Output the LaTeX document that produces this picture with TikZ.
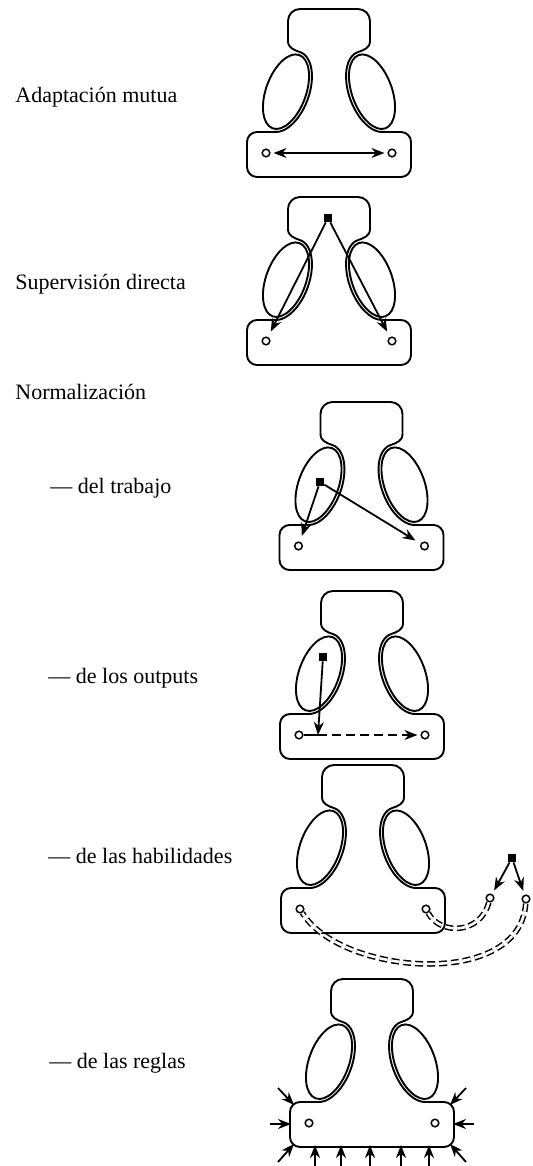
\documentclass[tikz,border=0pt]{standalone}
\usepackage{fontspec}
\setmainfont{Liberation Serif}
\usetikzlibrary{arrows.meta}

\begin{document}
\begin{tikzpicture}[
    x=0.5pt, y=0.5pt,
    font=\fontsize{11}{13}\selectfont,
    >={Stealth[length=6.5pt, width=5pt]},
    orgline/.style={line width=0.95pt, line join=round},
    opcirc/.style={circle, draw, fill=white, line width=0.75pt,
                   inner sep=0pt, minimum size=3.8pt},
    apex/.style={rectangle, fill=black, inner sep=0pt, minimum size=4pt},
    arr/.style={->, line width=0.9pt, shorten >=1.5pt},
    dbl/.style={double, double distance=1.3pt, line width=0.75pt,
                dash pattern=on 4pt off 2pt},
    lbl/.style={anchor=base west, inner sep=0pt},
    orgshape/.pic={
      % contour: apex, middle line and operating core
      \draw[orgline] (-72,0)
        -- plot[domain=-78.7:90, samples=40, variable=\t]
           ({-43+23*cos(\t)*cos(20)+42*sin(\t)*sin(20)},
            {40.3-23*cos(\t)*sin(20)+42*sin(\t)*cos(20)})
        .. controls +(160:7) and +(0,-7) .. (-41,91)
        -- (-41,111) arc[start angle=180, end angle=90, radius=12]
        -- (29,123) arc[start angle=90, end angle=0, radius=12]
        -- (41,91) .. controls +(0,-7) and +(20:7) .. (28.64,79.77)
        -- plot[domain=90:258.7, samples=40, variable=\t]
           ({43+23*cos(\t)*cos(20)-42*sin(\t)*sin(20)},
            {40.3+23*cos(\t)*sin(20)+42*sin(\t)*cos(20)})
        -- (72,0) arc[start angle=90, end angle=0, radius=10]
        -- (82,-35) arc[start angle=0, end angle=-90, radius=10]
        -- (-72,-45) arc[start angle=270, end angle=180, radius=10]
        -- (-82,-10) arc[start angle=180, end angle=90, radius=10] -- cycle;
      % technostructure and support staff
      \draw[orgline, shift={(-43,40.3)}, rotate=-20]
        (0,0) ellipse[x radius=20, y radius=39];
      \draw[orgline, shift={(43,40.3)}, rotate=20]
        (0,0) ellipse[x radius=20, y radius=39];
      \node[opcirc] (-opl) at (-63,-21) {};
      \node[opcirc] (-opr) at (63,-21) {};
    }
]
\useasboundingbox (0,0) rectangle (532,-1166);

% labels
\node[lbl] (lam)  at (15,-103)  {Adaptación mutua};
\node[lbl] (lsd)  at (15,-289)  {Supervisión directa};
\node[lbl] (lnor) at (15,-399)  {Normalización};
\node[lbl] (ltra) at (50,-493)  {— del trabajo};
\node[lbl] (lout) at (48,-683)  {— de los outputs};
\node[lbl] (lhab) at (48,-863)  {— de las habilidades};
\node[lbl] (lreg) at (49,-1068) {— de las reglas};

% mutual adjustment
\pic (fam) at (329,-132) {orgshape};
\draw[<->, line width=0.9pt, shorten <=1.5pt, shorten >=1.5pt]
    (fam-opl) -- (fam-opr);

% direct supervision
\pic (fsd) at (329,-320) {orgshape};
\node[apex] (ap2) at (328,-218) {};
\draw[arr, shorten >=3pt] (ap2) -- (fsd-opl);
\draw[arr, shorten >=3pt] (ap2) -- (fsd-opr);

% work processes
\pic (ftr) at (361.5,-525) {orgshape};
\node[apex] (ap3) at (320,-482) {};
\draw[arr, shorten >=3pt] (ap3) -- (ftr-opl);
\draw[arr, shorten >=3pt] (ap3) -- (ftr-opr);

% outputs
\pic (fout) at (362,-714) {orgshape};
\node[apex] (ap4) at (323,-657) {};
\coordinate (jn4) at (318,-735);
\draw[arr, shorten >=0pt] (ap4) -- (jn4);
\draw[line width=0.9pt] (fout-opl) -- (jn4);
\draw[arr, dash pattern=on 4.5pt off 2.5pt] (jn4) -- (fout-opr);

% skills
\pic (fhab) at (363,-888) {orgshape};
\node[apex] (ap5) at (512,-858) {};
\node[opcirc] (ex1) at (490,-898) {};
\node[opcirc] (ex2) at (526,-899) {};
\draw[arr, shorten >=2pt] (ap5) -- (ex1);
\draw[arr, shorten >=2pt] (ap5) -- (ex2);
\draw[dbl] (ex1) .. controls (480,-935) and (440,-935) .. (fhab-opr);
\draw[dbl] (ex2) .. controls (520,-990) and (340,-975) .. (fhab-opl);

% rules
\pic (freg) at (372,-1102) {orgshape};
\foreach \x [count=\i] in {315,341,370,401,429} {
  \coordinate (rb\i) at (\x,-1166);
  \coordinate (rt\i) at (\x,-1145);
  \draw[arr, shorten >=0pt] (rb\i) -- (rt\i);
}
\coordinate (lw1) at (278,-1088);  \coordinate (lt1) at (294,-1105);
\coordinate (lw2) at (270,-1124);  \coordinate (lt2) at (291,-1124);
\coordinate (lw3) at (278,-1162);  \coordinate (lt3) at (294,-1144);
\coordinate (rw1) at (466,-1088);  \coordinate (rt1) at (450,-1105);
\coordinate (rw2) at (474,-1124);  \coordinate (rt2) at (453,-1124);
\coordinate (rw3) at (466,-1162);  \coordinate (rt3) at (450,-1144);
\foreach \a/\b in {lw1/lt1, lw2/lt2, lw3/lt3, rw1/rt1, rw2/rt2, rw3/rt3}
  \draw[arr, shorten >=0pt] (\a) -- (\b);
\end{tikzpicture}
\end{document}
